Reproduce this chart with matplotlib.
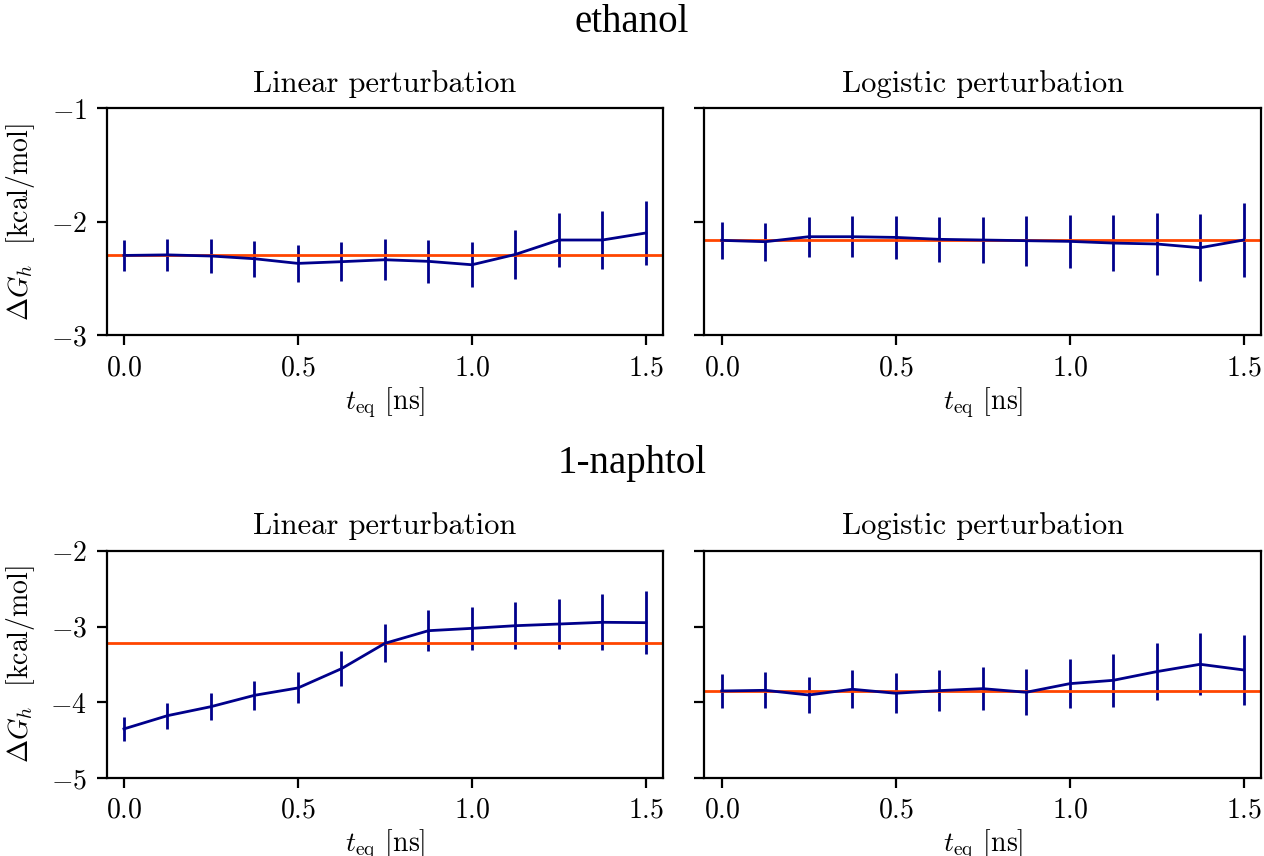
import matplotlib.pyplot as plt
import matplotlib as mpl

mpl.rcParams['font.family'] = 'serif'
mpl.rcParams['font.serif'] = ['cmr10']
mpl.rcParams['mathtext.fontset'] = 'cm'
mpl.rcParams['axes.formatter.use_mathtext'] = True
mpl.rcParams['font.size'] = 10

# equilibration times [ns]
t_eq = [0.0, 0.125, 0.25, 0.375, 0.5, 0.625, 0.75, 0.875, 1.0, 1.125, 1.25, 1.375, 1.5]

# ethanol
eth_lin = [-2.295, -2.29, -2.30, -2.324, -2.365, -2.35, -2.333, -2.347, -2.377, -2.286, -2.159, -2.159, -2.097]
eth_lin_err = [0.14, 0.144, 0.153, 0.159, 0.165, 0.174, 0.18, 0.19, 0.20, 0.218, 0.235, 0.259, 0.285]
eth_log = [-2.162, -2.174, -2.130, -2.130, -2.136, -2.153, -2.159, -2.165, -2.171, -2.186, -2.194, -2.227, -2.159]
eth_log_err = [0.163, 0.169, 0.175, 0.182, 0.19, 0.196, 0.206, 0.219, 0.232, 0.246, 0.269, 0.294, 0.325]
eth_ref_lin = -2.295
eth_ref_log = -2.162

# 1-naphtol
nap_lin = [-4.351, -4.176, -4.057, -3.907, -3.81, -3.555, -3.22, -3.053, -3.022, -2.987, -2.965, -2.942, -2.947]
nap_lin_err = [0.163, 0.172, 0.18, 0.19, 0.205, 0.227, 0.249, 0.269, 0.288, 0.308, 0.335, 0.372, 0.42]
nap_log = [-3.85, -3.841, -3.903, -3.827, -3.88, -3.845, -3.819, -3.867, -3.753, -3.709, -3.594, -3.497, -3.572]
nap_log_err = [0.225, 0.236, 0.242, 0.253, 0.262, 0.271, 0.286, 0.302, 0.322, 0.348, 0.372, 0.41, 0.46]
nap_ref_lin = -3.22
nap_ref_log = -3.85

molecules = ['ethanol', '1-naphtol']
panels = [
    [(eth_lin, eth_lin_err, eth_ref_lin), (eth_log, eth_log_err, eth_ref_log)],
    [(nap_lin, nap_lin_err, nap_ref_lin), (nap_log, nap_log_err, nap_ref_log)],
]
ylims = [(-3, -1), (-5, -2)]
subtitles = ['Linear perturbation', 'Logistic perturbation']

fig = plt.figure(figsize=(6.32, 4.28), dpi=200)

lefts = [0.0843, 0.5572]
bottoms = [0.6081, 0.0911]
w, h = 0.4405, 0.2652
title_y = [0.974, 0.459]

for r in range(2):
    fig.text(0.5, title_y[r], molecules[r], ha='center', va='center',
             fontsize=14, family='Liberation Serif')
    ax0 = None
    for c in range(2):
        ax = fig.add_axes([lefts[c], bottoms[r], w, h], sharey=ax0)
        vals, errs, ref = panels[r][c]
        ax.errorbar(t_eq, vals, yerr=errs, color='darkblue', lw=1.0, elinewidth=1.0)
        ax.axhline(ref, color='orangered', lw=1.0)
        ax.set_xlim(-0.05, 1.55)
        ax.set_xticks([0.0, 0.5, 1.0, 1.5])
        ax.set_ylim(*ylims[r])
        ax.set_yticks(range(ylims[r][0], ylims[r][1] + 1))
        ax.set_title(subtitles[c], fontsize=11)
        ax.set_xlabel(r'$t_{\rm eq}$ [ns]', labelpad=1.5)
        if c == 0:
            ax.set_ylabel(r'$\Delta G_h$  [kcal/mol]', labelpad=5)
            ax0 = ax
        else:
            ax.tick_params(labelleft=False)

plt.savefig('out.png', dpi=200)
